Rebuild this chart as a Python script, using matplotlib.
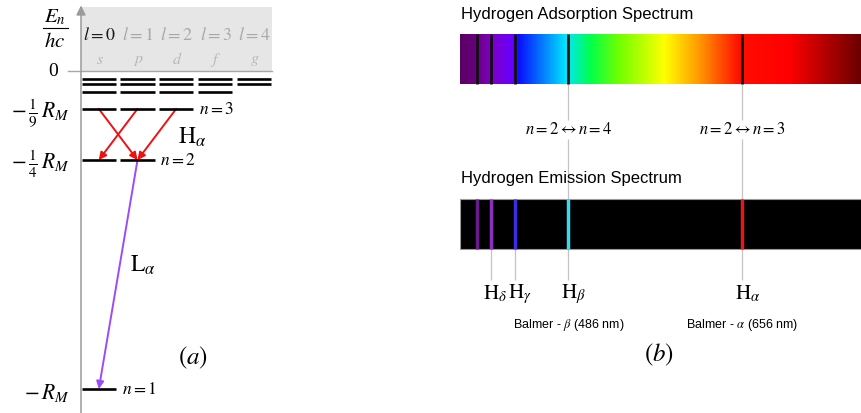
import numpy as np
import matplotlib
matplotlib.use("Agg")
import matplotlib.pyplot as plt
from matplotlib.colors import LinearSegmentedColormap
from matplotlib.patches import FancyArrowPatch, Rectangle

plt.rcParams["font.family"] = ["Liberation Serif", "DejaVu Serif"]
plt.rcParams["mathtext.fontset"] = "stix"

# ── (a) energy levels: E/R_M where they sit on the diagram ──
level_n = [1, 2, 3, 4, 5, 6]
level_E = [-1.0, -0.280, -0.119, -0.065, -0.042, -0.026]
level_lmax = [0, 1, 2, 3, 4, 4]
labelled_n = [1, 2, 3]
orbital_l = [0, 1, 2, 3, 4]
orbital_sym = ["s", "p", "d", "f", "g"]
tick_E = [0.0, -0.119, -0.280, -1.0]
tick_txt = ["0", r"$-\,\frac{1}{9}\,R_M$", r"$-\,\frac{1}{4}\,R_M$", r"$-\,R_M$"]
# (l_from, n_from, l_to, n_to)
h_alpha = [(0, 3, 1, 2), (1, 3, 0, 2), (2, 3, 1, 2)]
l_alpha = [(1, 2, 0, 1)]

# ── (b) spectra ──
balmer_nm = [397, 410, 434, 486, 656]
emis_colors = ["#6a1a8c", "#8a2fc0", "#3a2ee0", "#3fd8e8", "#e01a1a"]
h_labels = [None, r"$\mathrm{H}_\delta$", r"$\mathrm{H}_\gamma$",
            r"$\mathrm{H}_\beta$", r"$\mathrm{H}_\alpha$"]
trans_nm = [486, 656]
trans_txt = [r"$n=2\leftrightarrow n=4$", r"$n=2\leftrightarrow n=3$"]
balmer_txt = [r"Balmer - $\beta$ (486 nm)", r"Balmer - $\alpha$ (656 nm)"]
grad_nm = [380, 396, 410, 431, 437, 483, 507, 536, 580, 614, 654, 702, 773]
grad_col = ["#5a0066", "#6a0080", "#7f00c8", "#6600ff", "#0a10ff", "#00e5ff",
            "#00ff4c", "#73ff00", "#ffff00", "#ff9900", "#ff0d00", "#ff0000",
            "#6b0000"]

fig = plt.figure(figsize=(8.62, 4.14), dpi=100)

# ================= (a) =================
ax = fig.add_axes([0, 0, 440/862, 1])
ax.set_xlim(-81/38.7, 359/38.7)
ax.set_ylim(-342/318, 72/318)
ax.axis("off")

top = 64/318
ax.add_patch(Rectangle((0, 0), 4.94, top, color="#e6e6e6", lw=0, zorder=0))
ax.plot([-0.34, 4.94], [0, 0], color="#a8a8a8", lw=1, zorder=1)
ax.annotate("", xy=(0, top + 0.005), xytext=(0, -1.08),
            arrowprops=dict(arrowstyle="-|>", color="#9a9a9a", lw=1.1,
                            mutation_scale=14, shrinkA=0, shrinkB=0))

for l, sym in zip(orbital_l, orbital_sym):
    ax.text(l + 0.48, 0.116, rf"$l={l}$", ha="center", va="center", fontsize=13,
            color="#1a1a1a" if l == 0 else "#a8a8a8")
    ax.text(l + 0.48, 0.038, rf"${sym}$", ha="center", va="center", fontsize=11.5,
            color="#b8b8b8")

for n, E, lmax in zip(level_n, level_E, level_lmax):
    for l in range(lmax + 1):
        ax.plot([l + 0.02, l + 0.9], [E, E], color="black", lw=1.9,
                solid_capstyle="butt")
    if n in labelled_n:
        ax.text(lmax + 1.05, E, rf"$n={n}$", ha="left", va="center", fontsize=12.5)

ax.text(-0.67, 0.172, r"$E_n$", ha="center", va="center", fontsize=15)
ax.plot([-0.98, -0.34], [0.135, 0.135], color="black", lw=0.8)
ax.text(-0.67, 0.092, r"$hc$", ha="center", va="center", fontsize=15)
for E, t in zip(tick_E, tick_txt):
    if t == "0":
        ax.text(-0.72, E, t, ha="center", va="center", fontsize=14)
    else:
        ax.text(-0.3, E - 0.01, t, ha="right", va="center", fontsize=15.5)

def draw_trans(trans, color):
    for l0, n0, l1, n1 in trans:
        p0 = (l0 + 0.46, level_E[level_n.index(n0)])
        p1 = (l1 + 0.46, level_E[level_n.index(n1)])
        ax.add_patch(FancyArrowPatch(p0, p1, arrowstyle="-|>", color=color,
                                     lw=1.4, mutation_scale=11, shrinkA=0, shrinkB=0))

draw_trans(h_alpha, "#ee1111")
draw_trans(l_alpha, "#9b4cf7")
ax.text(2.5, -0.204, r"$\mathrm{H}_\alpha$", ha="left", va="center", fontsize=17)
ax.text(1.27, -0.607, r"$\mathrm{L}_\alpha$", ha="left", va="center", fontsize=17)
ax.text(2.89, -0.90, r"$(a)$", ha="center", va="center", fontsize=18)

# ================= (b) =================
bx = fig.add_axes([460/862, 0, 402/862, 1])
bx.set_xlim(380, 773)
bx.set_ylim(414, 0)
bx.axis("off")

cmap = LinearSegmentedColormap.from_list(
    "vis", [((w - grad_nm[0]) / (grad_nm[-1] - grad_nm[0]), c)
            for w, c in zip(grad_nm, grad_col)])
bx.imshow(np.linspace(0, 1, 600)[None, :], cmap=cmap, aspect="auto",
          extent=(380, 773, 85, 35), zorder=1)
bx.add_patch(Rectangle((380, 200), 393, 50, facecolor="black",
                       edgecolor="#9a9a9a", lw=0.8, zorder=1))
bx.vlines(balmer_nm, 35, 85, color="#111111", lw=2, zorder=2)
bx.vlines(balmer_nm, 200, 250, colors=emis_colors, lw=2.5, zorder=2)

bx.text(380.5, 14, "Hydrogen Adsorption Spectrum", family="Liberation Sans",
        fontsize=12, ha="left", va="center")
bx.text(380.5, 179, "Hydrogen Emission Spectrum", family="Liberation Sans",
        fontsize=12, ha="left", va="center")

for w, t in zip(trans_nm, trans_txt):
    bx.vlines(w, 85, 121, color="#c4c4c4", lw=0.9, zorder=0)
    bx.vlines(w, 140, 200, color="#c4c4c4", lw=0.9, zorder=0)
    bx.text(w, 130, t, ha="center", va="center", fontsize=12)

for w, t in zip(balmer_nm, h_labels):
    if t is None:
        continue
    bx.vlines(w, 250, 281, color="#c4c4c4", lw=0.9, zorder=0)
    bx.annotate(t, xy=(w, 294), xytext=(-5.5, 0), textcoords="offset points",
                ha="left", va="center", fontsize=15)

for w, t in zip(trans_nm, balmer_txt):
    bx.text(w, 325, t, ha="center", va="center", fontsize=9,
            family=["Liberation Sans", "DejaVu Sans"])
bx.text(575, 355, r"$(b)$", ha="center", va="center", fontsize=18)

fig.savefig("out.png", dpi=100)
